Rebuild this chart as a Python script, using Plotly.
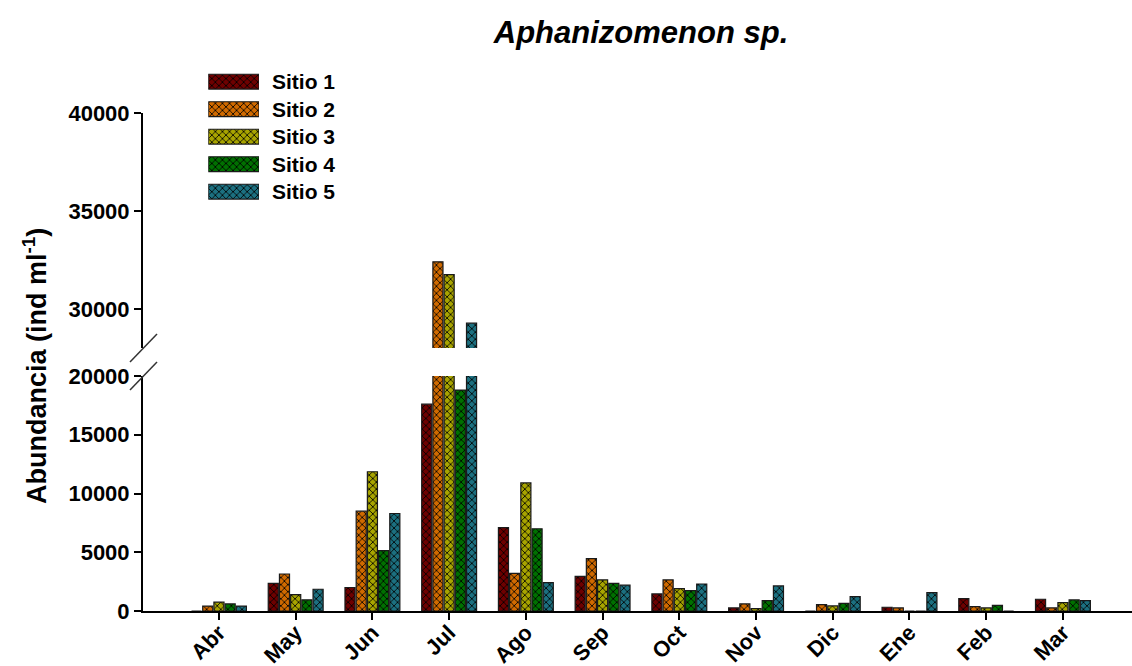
import plotly.graph_objects as go

# Monthly abundance of Aphanizomenon sp. at five sampling sites (ind/ml)
months = ["Abr", "May", "Jun", "Jul", "Ago", "Sep", "Oct", "Nov", "Dic", "Ene", "Feb", "Mar"]
sitio1 = [0, 2350, 2000, 17600, 7100, 2950, 1450, 260, 0, 320, 1050, 1000]
sitio2 = [420, 3150, 8500, 32400, 3200, 4450, 2650, 600, 540, 260, 370, 260]
sitio3 = [760, 1400, 11850, 31750, 10900, 2650, 1900, 200, 430, 0, 260, 710]
sitio4 = [600, 950, 5130, 18800, 7000, 2350, 1730, 880, 650, 0, 480, 940]
sitio5 = [420, 1850, 8300, 29270, 2420, 2200, 2300, 2130, 1220, 1560, 0, 880]

site_names = ["Sitio 1", "Sitio 2", "Sitio 3", "Sitio 4", "Sitio 5"]
site_values = [sitio1, sitio2, sitio3, sitio4, sitio5]
site_colors = ["#6e0000", "#d06a00", "#a8a400", "#007000", "#1c7080"]

lower_ticks = [0, 5000, 10000, 15000, 20000]
upper_ticks = [30000, 35000, 40000]

W, H = 1132, 666
L, R, T, B = 143, 0, 60, 55
PW, PH = W - L - R, H - T - B


def px_x(px):
    return (px - L) / PW


def px_y(py):
    return (H - B - py) / PH


FONT = "Liberation Sans, Arial, sans-serif"

fig = go.Figure()


def pattern(color):
    return dict(shape="x", fgcolor="#000000", bgcolor=color, size=5, solidity=0.3,
                fillmode="replace")


# Broken y axis: the same bars are drawn on a lower (0-20000) and upper (28000-40000) panel
for name, vals, col in zip(site_names, site_values, site_colors):
    for ya in ("y", "y2"):
        fig.add_trace(go.Bar(
            x=months, y=vals, name=name, xaxis="x", yaxis=ya, showlegend=False,
            offsetgroup=name,
            marker=dict(color=col, pattern=pattern(col),
                        line=dict(color="#1a1a1a", width=1.2)),
        ))

# Legend swatches drawn as horizontal patterned bars on a hidden axis
for i, (name, col) in enumerate(zip(site_names, site_colors)):
    fig.add_trace(go.Bar(
        y=[i], x=[1], base=0, orientation="h", xaxis="x3", yaxis="y3",
        width=0.54, offset=-0.27, showlegend=False, hoverinfo="skip",
        marker=dict(color=col, pattern=pattern(col),
                    line=dict(color="#1a1a1a", width=1.2)),
    ))

row_y = [81.7 + 27.5 * i for i in range(len(site_names))]
annotations = []
for name, ry in zip(site_names, row_y):
    annotations.append(dict(
        x=px_x(270), y=px_y(ry), xref="paper", yref="paper", text=name,
        showarrow=False, xanchor="left", yanchor="middle",
        font=dict(family=FONT, size=21, color="#000000", weight="bold"),
    ))

# y-axis title
annotations.append(dict(
    x=px_x(35), y=px_y(366), xref="paper", yref="paper",
    text="Abundancia (ind ml<sup>-1</sup>)", textangle=-90, showarrow=False,
    xanchor="center", yanchor="middle",
    font=dict(family=FONT, size=27, color="#000000", weight="bold"),
))

# Axis-break slashes
shapes = []
for (x0, y0, x1, y1) in [(130, 362, 157, 334), (130, 390, 157, 362)]:
    shapes.append(dict(type="line", xref="paper", yref="paper",
                       x0=px_x(x0), y0=px_y(y0), x1=px_x(x1), y1=px_y(y1),
                       line=dict(color="#333333", width=1.5)))

tickfont = dict(family=FONT, size=22, color="#000000", weight="bold")
axis_common = dict(showline=True, linecolor="#000000", linewidth=2, ticks="outside",
                   ticklen=7, tickwidth=2, tickcolor="#000000", showgrid=False,
                   zeroline=False, tickfont=tickfont, automargin=False)

fig.update_layout(
    width=W, height=H,
    margin=dict(l=L, r=R, t=T, b=B, pad=0, autoexpand=False),
    paper_bgcolor="white", plot_bgcolor="white",
    barmode="group", bargap=0.27, bargroupgap=0.1,
    title=dict(text="Aphanizomenon sp.", x=px_x(641), xref="paper",
               y=1 - 32 / H, yref="container", xanchor="center", yanchor="middle",
               automargin=False,
               font=dict(family=FONT, size=31, color="#000000", weight="bold",
                         style="italic")),
    xaxis=dict(domain=[0, 1], anchor="y", range=[-0.99, 11.9], tickangle=-45,
               ticklabelstandoff=-9,
               categoryorder="array", categoryarray=months, **axis_common),
    yaxis=dict(domain=[0, px_y(376)], anchor="x", range=[0, 20000],
               tickvals=lower_ticks, ticktext=[str(v) for v in lower_ticks],
               **axis_common),
    yaxis2=dict(domain=[px_y(348), px_y(113)], anchor="x", range=[28000, 40000],
                tickvals=upper_ticks, ticktext=[str(v) for v in upper_ticks],
                **axis_common),
    xaxis3=dict(domain=[px_x(208.3), px_x(259)], anchor="y3", range=[0, 1], visible=False),
    yaxis3=dict(domain=[px_y(row_y[-1] + 13.75), px_y(row_y[0] - 13.75)], anchor="x3",
                range=[4.5, -0.5], visible=False),
    annotations=annotations,
    shapes=shapes,
    showlegend=False,
)

fig.write_html("out.html")
